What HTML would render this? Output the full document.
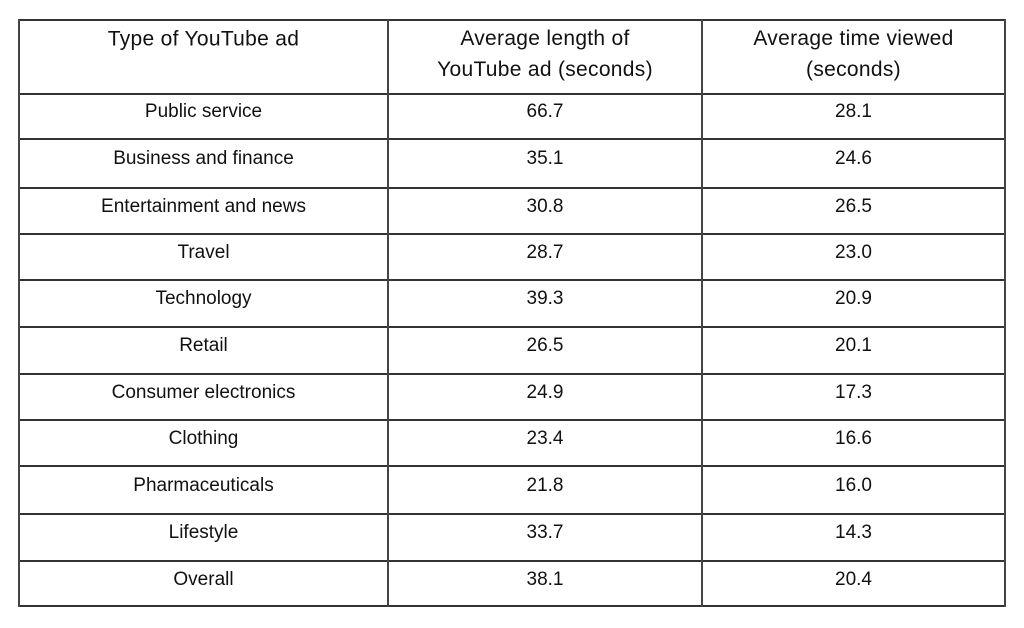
<!DOCTYPE html>
<html><head><meta charset="utf-8"><style>
body{margin:0;width:1024px;height:628px;background:#fff;position:relative;overflow:hidden;font-family:"Liberation Sans",sans-serif;color:#111}
.h{position:absolute;height:0;border-top:2px solid #333}
.v{position:absolute;width:0;border-left:2px solid #444}
.t{position:absolute;text-align:center;font-size:19px;line-height:22px;transform:translateY(-50%);margin-top:2px}
.b{font-size:21px;line-height:31px;font-weight:500;letter-spacing:0.3px;margin-top:1px}
</style></head><body>
<div class="h" style="left:19px;width:987px;top:19px"></div>
<div class="h" style="left:19px;width:987px;top:93px"></div>
<div class="h" style="left:19px;width:987px;top:138px"></div>
<div class="h" style="left:19px;width:987px;top:187px"></div>
<div class="h" style="left:19px;width:987px;top:233px"></div>
<div class="h" style="left:19px;width:987px;top:279px"></div>
<div class="h" style="left:19px;width:987px;top:326px"></div>
<div class="h" style="left:19px;width:987px;top:373px"></div>
<div class="h" style="left:19px;width:987px;top:419px"></div>
<div class="h" style="left:19px;width:987px;top:465px"></div>
<div class="h" style="left:19px;width:987px;top:513px"></div>
<div class="h" style="left:19px;width:987px;top:560px"></div>
<div class="h" style="left:19px;width:987px;top:605px"></div>
<div class="v" style="left:18px;top:19px;height:588px"></div>
<div class="v" style="left:387px;top:19px;height:588px"></div>
<div class="v" style="left:701px;top:19px;height:588px"></div>
<div class="v" style="left:1004px;top:19px;height:588px"></div>

<div class="t b" style="left:19px;width:369px;top:38px">Type of YouTube ad</div>
<div class="t b" style="left:388px;width:314px;top:53px">Average length of<br>YouTube ad (seconds)</div>
<div class="t b" style="left:702px;width:303px;top:53px">Average time viewed<br>(seconds)</div>

<div class="t" style="left:19px;width:369px;top:110px">Public service</div>
<div class="t" style="left:19px;width:369px;top:157px">Business and finance</div>
<div class="t" style="left:19px;width:369px;top:205px">Entertainment and news</div>
<div class="t" style="left:19px;width:369px;top:251px">Travel</div>
<div class="t" style="left:19px;width:369px;top:297px">Technology</div>
<div class="t" style="left:19px;width:369px;top:344px">Retail</div>
<div class="t" style="left:19px;width:369px;top:391px">Consumer electronics</div>
<div class="t" style="left:19px;width:369px;top:437px">Clothing</div>
<div class="t" style="left:19px;width:369px;top:484px">Pharmaceuticals</div>
<div class="t" style="left:19px;width:369px;top:531px">Lifestyle</div>
<div class="t" style="left:19px;width:369px;top:578px">Overall</div>

<div class="t" style="left:388px;width:314px;top:110px">66.7</div>
<div class="t" style="left:388px;width:314px;top:157px">35.1</div>
<div class="t" style="left:388px;width:314px;top:205px">30.8</div>
<div class="t" style="left:388px;width:314px;top:251px">28.7</div>
<div class="t" style="left:388px;width:314px;top:297px">39.3</div>
<div class="t" style="left:388px;width:314px;top:344px">26.5</div>
<div class="t" style="left:388px;width:314px;top:391px">24.9</div>
<div class="t" style="left:388px;width:314px;top:437px">23.4</div>
<div class="t" style="left:388px;width:314px;top:484px">21.8</div>
<div class="t" style="left:388px;width:314px;top:531px">33.7</div>
<div class="t" style="left:388px;width:314px;top:578px">38.1</div>

<div class="t" style="left:702px;width:303px;top:110px">28.1</div>
<div class="t" style="left:702px;width:303px;top:157px">24.6</div>
<div class="t" style="left:702px;width:303px;top:205px">26.5</div>
<div class="t" style="left:702px;width:303px;top:251px">23.0</div>
<div class="t" style="left:702px;width:303px;top:297px">20.9</div>
<div class="t" style="left:702px;width:303px;top:344px">20.1</div>
<div class="t" style="left:702px;width:303px;top:391px">17.3</div>
<div class="t" style="left:702px;width:303px;top:437px">16.6</div>
<div class="t" style="left:702px;width:303px;top:484px">16.0</div>
<div class="t" style="left:702px;width:303px;top:531px">14.3</div>
<div class="t" style="left:702px;width:303px;top:578px">20.4</div>
</body></html>
